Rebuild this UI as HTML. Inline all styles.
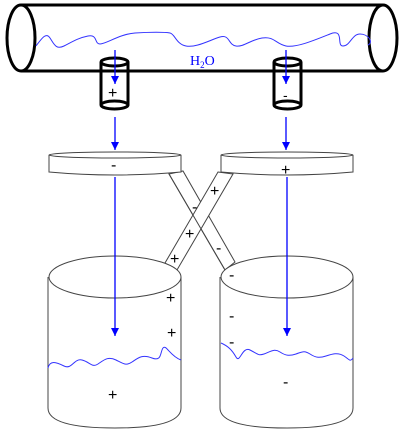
<!DOCTYPE html>
<html><head><meta charset="utf-8"><style>body{margin:0;background:#fff}svg{display:block}text{font-family:"Liberation Sans",sans-serif}</style></head><body>
<svg width="401" height="435" viewBox="0 0 401 435">
<defs><marker id="ah" markerWidth="9" markerHeight="8" refX="8" refY="4" orient="auto" markerUnits="userSpaceOnUse"><path d="M0,0 L8,4 L0,8 Z" fill="#00f"/></marker></defs>
<g stroke="#000" stroke-width="3" fill="#fff">
<path d="M21,5 L383,5 M21,71 L383,71" fill="none"/>
<ellipse cx="21" cy="38" rx="14" ry="33"/>
<ellipse cx="383" cy="38" rx="14" ry="33"/>
</g>
<path d="M36,46 C42,38 46,32 50,38 S56,50 64,46 S78,38 88,36 S94,44 100,44 S120,34 135,33 S165,32 170,33 S176,44 186,46 S210,40 220,37 S228,45 236,46 S250,40 262,38 S276,44 286,46 S315,40 330,34 S336,46 343,46 S352,34 360,34 S374,42 368,45" fill="none" stroke="#33f" stroke-width="1"/>
<text x="190" y="65" fill="#00f" font-family="Liberation Serif" font-size="14" style="font-family:'Liberation Serif',serif">H<tspan font-size="9" dy="3">2</tspan><tspan dy="-3">O</tspan></text>
<g stroke="#000" stroke-width="3" fill="#fff">
<path d="M101,62 L101,105 M128,62 L128,105"/><ellipse cx="114.5" cy="105" rx="13.5" ry="4"/><ellipse cx="114.5" cy="62" rx="13.5" ry="4"/>
</g>
<g stroke="#000" stroke-width="3" fill="#fff">
<path d="M274,62 L274,105 M301,62 L301,105"/><ellipse cx="287.5" cy="105" rx="13.5" ry="4"/><ellipse cx="287.5" cy="62" rx="13.5" ry="4"/>
</g>
<text x="108" y="98" font-size="16">+</text>
<text x="283" y="100" font-size="14">-</text>
<g stroke="#00f" stroke-width="1.3" marker-end="url(#ah)">
<line x1="115" y1="50" x2="115" y2="84"/><line x1="286" y1="50" x2="286" y2="84"/>
<line x1="115" y1="117" x2="115" y2="150"/><line x1="286" y1="117" x2="286" y2="150"/>
</g>
<g stroke="#444" stroke-width="1" fill="#fff">
<polygon points="169,174 183,171 235,262 225,270"/>
<polygon points="218,172 233,174 177,270 165,263"/>
<line x1="169" y1="174" x2="225" y2="270"/>
</g>
<g stroke="#444" stroke-width="1" fill="#fff">
<path d="M49,155 L49,172 Q115,178 181,172 L181,155"/><ellipse cx="115" cy="155" rx="66" ry="3"/>
</g>
<g stroke="#444" stroke-width="1" fill="#fff">
<path d="M221,155 L221,172 Q287,178 353,172 L353,155"/><ellipse cx="287" cy="155" rx="66" ry="3"/>
</g>
<g stroke="#444" stroke-width="1" fill="#fff">
<path d="M48,277 L48,408 Q48,428 115,428 Q181,428 181,408 L181,277"/><ellipse cx="115" cy="277" rx="66" ry="21"/>
</g>
<g stroke="#444" stroke-width="1" fill="#fff">
<path d="M220,277 L220,408 Q220,428 287,428 Q353,428 353,408 L353,277"/><ellipse cx="287" cy="277" rx="66" ry="21"/>
</g>
<g stroke="#00f" stroke-width="1.3" marker-end="url(#ah)">
<line x1="115" y1="177" x2="115" y2="336"/><line x1="287" y1="177" x2="287" y2="336"/>
</g>
<path d="M48,368 C50,360 56,362 64,366 S74,358 82,360 S92,368 98,364 S108,356 116,360 S126,366 132,362 S142,354 152,358 S160,352 163,348 S170,356 181,360" fill="none" stroke="#33f"/>
<path d="M221,343 C228,346 232,350 236,357 S242,346 250,350 S258,356 264,354 S274,348 280,352 S290,356 296,354 S304,350 310,354 S320,358 326,356 S338,352 344,356 S350,362 353,358" fill="none" stroke="#33f"/>
<g font-size="16">
<text x="111" y="170">-</text><text x="281" y="175">+</text>
<text x="210" y="196">+</text><text x="192" y="212">-</text><text x="185" y="239">+</text><text x="216" y="253">-</text><text x="170" y="264">+</text><text x="229" y="280">-</text>
<text x="166" y="303">+</text><text x="167" y="338">+</text><text x="108" y="400">+</text>
<text x="229" y="321">-</text><text x="229" y="347">-</text><text x="283" y="387">-</text>
</g>
</svg>
</body></html>
